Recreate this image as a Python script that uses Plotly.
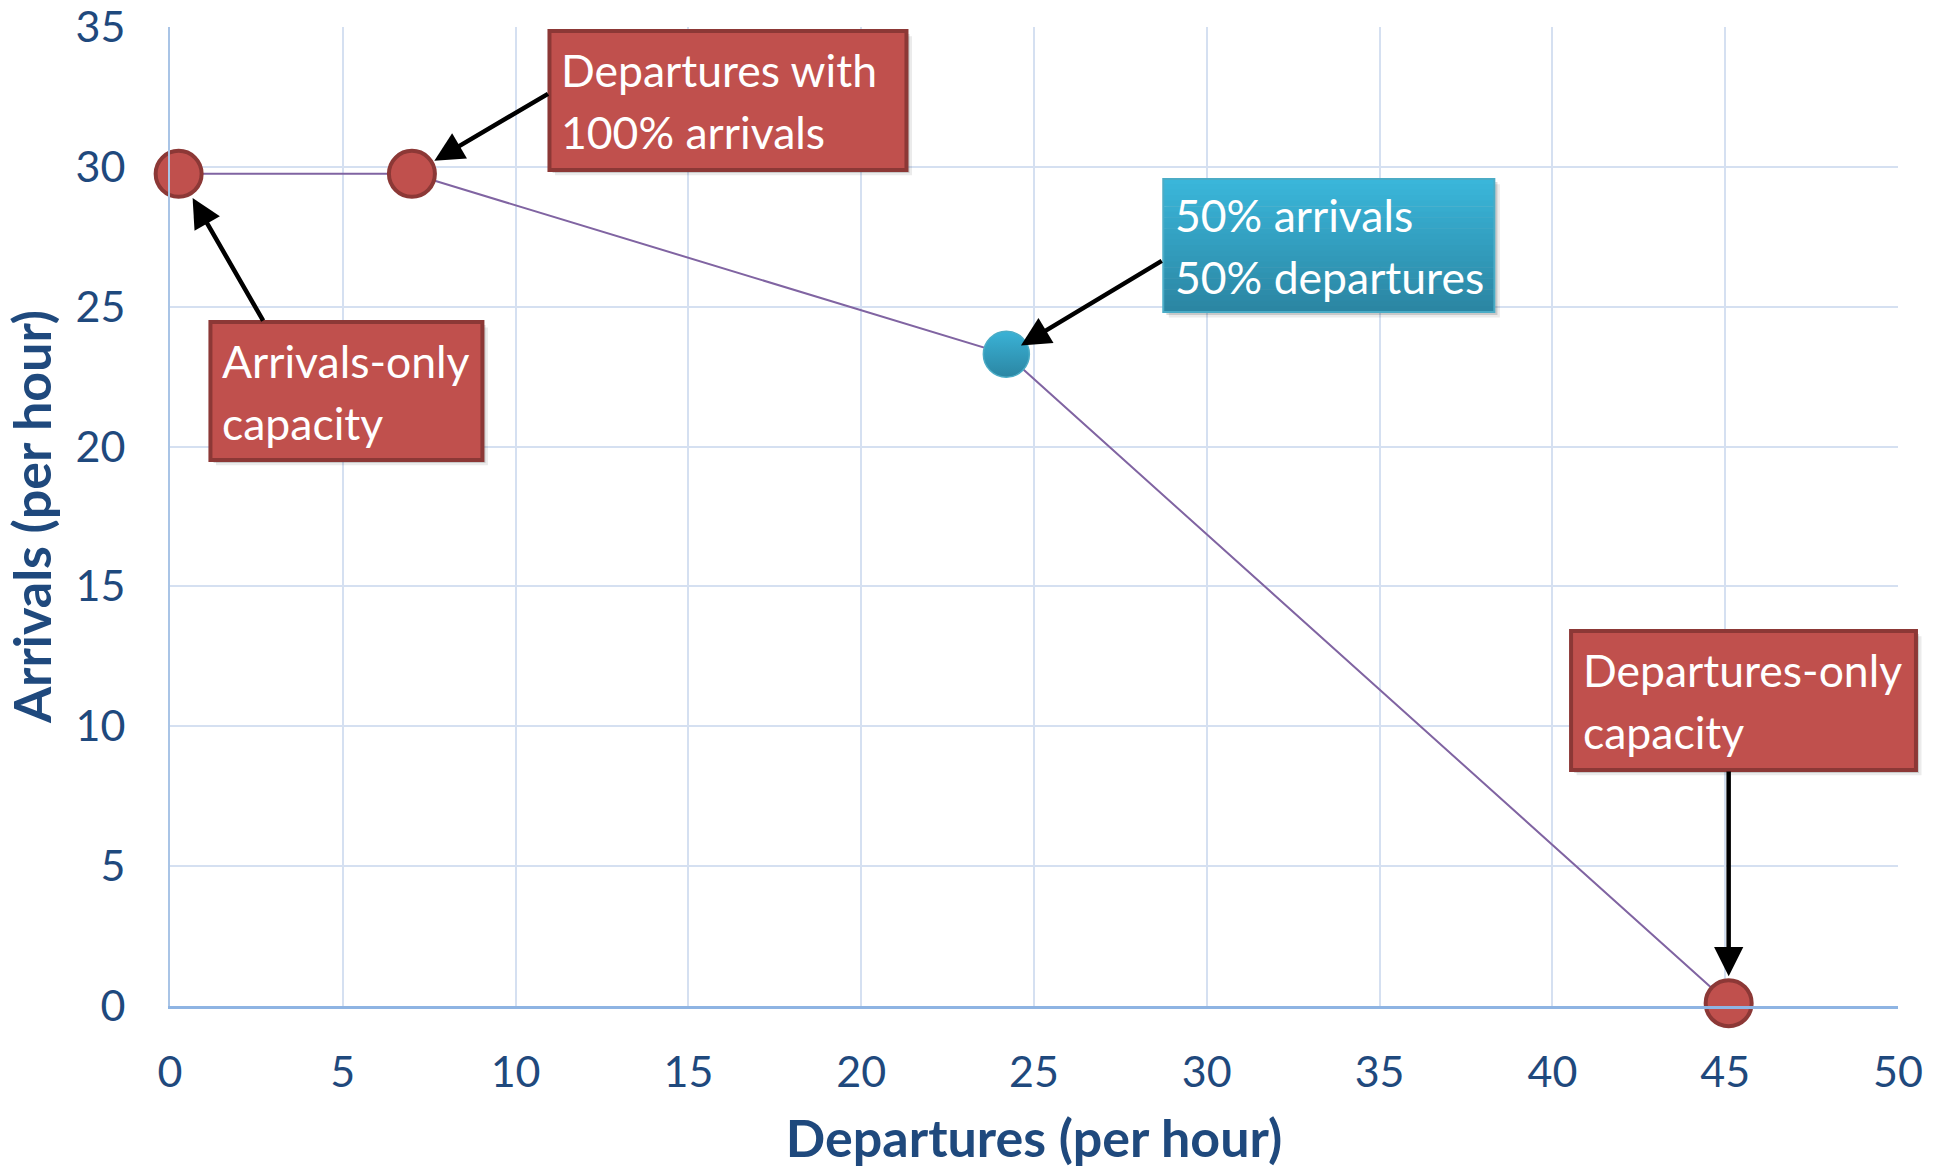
import plotly.graph_objects as go

# Capacity envelope: departures vs arrivals (per hour)
departures = [0.25, 7.0, 24.2, 45.1]
arrivals = [29.75, 29.75, 23.3, 0.1]
point_kind = ["red", "red", "blue", "red"]

callout_lines = [
    ("Arrivals-only", "capacity"),
    ("Departures with", "100% arrivals"),
    ("50% arrivals", "50% departures"),
    ("Departures-only", "capacity"),
]

x_tick_values = list(range(0, 55, 5))
y_tick_values = list(range(0, 40, 5))

X_RANGE = (0, 50)
Y_RANGE = (0, 35)

# Callout boxes in axis units: (x0, x1, y0, y1)
callout_boxes = [
    (1.17, 9.04, 19.52, 24.45),
    (10.98, 21.31, 29.89, 34.86),
    (28.74, 38.32, 24.81, 29.57),
    (40.54, 50.52, 8.44, 13.41),
]
# Where each arrow leaves its box (axis units) and how far it stops short of the point (px)
arrow_tails = [(2.72, 24.45), (10.98, 32.64), (28.74, 26.67), (45.1, 8.44)]
arrow_standoff = [28, 26, 17, 27]
callout_style = ["red", "red", "blue", "red"]

RED_FILL = "#C0504D"
RED_EDGE = "#8C3836"
BLUE_TOP = (58, 182, 218)
BLUE_BOTTOM = (43, 134, 163)
BLUE_EDGE = "#4BACC6"
TEXT_BLUE = "#1F497D"
GRID = "#D5E0F1"
FONT = "Lato"
LINE_GAP = 31  # px between the two lines of a callout and its centre


def px(x):
    return (x - X_RANGE[0]) / (X_RANGE[1] - X_RANGE[0])


def py(y):
    return (y - Y_RANGE[0]) / (Y_RANGE[1] - Y_RANGE[0])


fig = go.Figure()

fig.add_trace(go.Scatter(
    x=departures,
    y=arrivals,
    mode="lines+markers",
    line=dict(color="#8064A2", width=2),
    marker=dict(
        size=[46 if k == "red" else 46 for k in point_kind],
        opacity=1,
        color=[RED_FILL if k == "red" else "rgb(58,178,214)" for k in point_kind],
        line=dict(
            color=[RED_EDGE if k == "red" else BLUE_EDGE for k in point_kind],
            width=[4 if k == "red" else 1.5 for k in point_kind],
        ),
        gradient=dict(
            type=["none" if k == "red" else "vertical" for k in point_kind],
            color=[RED_FILL if k == "red" else "rgb(43,134,163)" for k in point_kind],
        ),
    ),
    cliponaxis=False,
    showlegend=False,
    hoverinfo="skip",
))

shapes = []
annotations = []

for (x0, x1, y0, y1), style, lines in zip(callout_boxes, callout_style, callout_lines):
    # soft drop shadow
    for off, alpha in ((0.16, 0.08), (0.09, 0.14)):
        shapes.append(dict(
            type="rect", xref="paper", yref="paper", layer="above",
            x0=px(x0 + off), x1=px(x1 + off), y0=py(y0 - off * 1.2), y1=py(y1 - off * 1.2),
            fillcolor=f"rgba(0,0,0,{alpha})", line=dict(width=0),
        ))
    if style == "red":
        shapes.append(dict(
            type="rect", xref="paper", yref="paper", layer="above",
            x0=px(x0), x1=px(x1), y0=py(y0), y1=py(y1),
            fillcolor=RED_FILL, line=dict(color=RED_EDGE, width=4),
        ))
    else:
        n = 24
        for i in range(n):
            t = i / (n - 1)
            c = tuple(round(a + (b - a) * t) for a, b in zip(BLUE_TOP, BLUE_BOTTOM))
            ya = y1 - (y1 - y0) * i / n
            yb = y1 - (y1 - y0) * (i + 1) / n
            shapes.append(dict(
                type="rect", xref="paper", yref="paper", layer="above",
                x0=px(x0), x1=px(x1), y0=py(yb), y1=py(ya) + 0.0005,
                fillcolor=f"rgb{c}", line=dict(width=0),
            ))
        shapes.append(dict(
            type="rect", xref="paper", yref="paper", layer="above",
            x0=px(x0), x1=px(x1), y0=py(y0), y1=py(y1),
            fillcolor="rgba(0,0,0,0)", line=dict(color=BLUE_EDGE, width=2),
        ))
    for line_text, shift in zip(lines, (LINE_GAP, -LINE_GAP)):
        annotations.append(dict(
            xref="paper", yref="paper",
            x=px(x0 + 0.28), y=py((y0 + y1) / 2), yshift=shift,
            xanchor="left", yanchor="middle", align="left",
            text=line_text, showarrow=False,
            font=dict(family=FONT, size=44.5, color="white"),
        ))

for (tx, ty), xd, yd, so in zip(arrow_tails, departures, arrivals, arrow_standoff):
    annotations.append(dict(
        x=xd, y=yd, xref="x", yref="y",
        ax=tx, ay=ty, axref="x", ayref="y",
        text="", showarrow=True,
        arrowhead=2, arrowsize=1.3, arrowwidth=4.5, arrowcolor="black",
        standoff=so,
    ))

fig.update_layout(
    width=1940,
    height=1168,
    margin=dict(l=170, r=42, t=27, b=162, autoexpand=False),
    paper_bgcolor="white",
    plot_bgcolor="white",
    font=dict(family=FONT, color=TEXT_BLUE),
    shapes=shapes,
    annotations=annotations,
    xaxis=dict(
        range=list(X_RANGE),
        tickvals=x_tick_values,
        automargin=False,
        showgrid=True, gridcolor=GRID, gridwidth=2,
        zeroline=False,
        showline=True, linecolor="#8EB4E3", linewidth=3,
        ticks="", ticklabelstandoff=26,
        tickfont=dict(family=FONT, size=43, color=TEXT_BLUE),
        title=dict(text="<b>Departures (per hour)</b>", standoff=30,
                   font=dict(family=FONT, size=52, color=TEXT_BLUE)),
    ),
    yaxis=dict(
        range=list(Y_RANGE),
        tickvals=y_tick_values,
        automargin=False,
        showgrid=True, gridcolor=GRID, gridwidth=2,
        zeroline=False,
        showline=True, linecolor="#A9C4E6", linewidth=2,
        ticks="", ticklabelstandoff=34,
        tickfont=dict(family=FONT, size=43, color=TEXT_BLUE),
        title=dict(text="<b>Arrivals (per hour)</b>", standoff=16,
                   font=dict(family=FONT, size=52, color=TEXT_BLUE)),
    ),
)

fig.write_html("out.html")
